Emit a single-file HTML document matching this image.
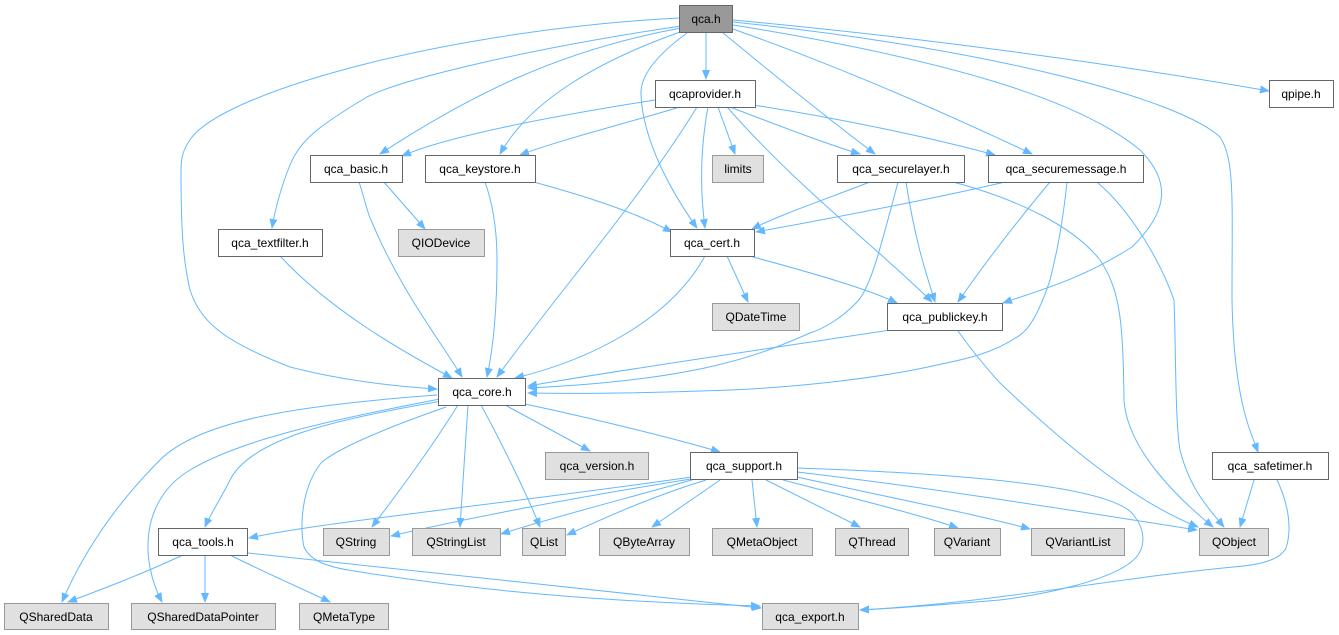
<!DOCTYPE html>
<html><head><meta charset="utf-8"><style>
html,body{margin:0;padding:0;background:#fff;}
svg{display:block;}
text{font-family:"Liberation Sans",sans-serif;font-size:12px;fill:#000;}
</style></head><body>
<svg width="1339" height="635" viewBox="0 0 1339 635" xmlns="http://www.w3.org/2000/svg">
<defs>
<marker id="a" markerWidth="10" markerHeight="8" refX="9" refY="4" orient="auto" markerUnits="userSpaceOnUse">
<path d="M0,0 L10,4 L0,8 z" fill="#63b8ff"/>
</marker>
</defs>
<g fill="none" stroke="#63b8ff" stroke-width="1" marker-end="url(#a)">
<path d="M679,18 C450,30 230,90 192,137 C182,150 181,160 181,170 C181,230 183,260 190,290 C200,320 220,340 290,367 C340,380 390,386 437,389"/>
<path d="M681,26 C520,50 400,80 367,97 C320,125 300,140 290,165 C280,190 275,210 272,228"/>
<path d="M681,28 C560,50 470,95 380,154"/>
<path d="M683,31 C600,60 530,100 500,154"/>
<path d="M706,32 L706,79"/>
<path d="M687,33 C650,60 640,80 641,95 C643,140 670,190 697,228"/>
<path d="M722,32 C780,80 830,120 875,154"/>
<path d="M730,28 C850,70 960,120 1032,154"/>
<path d="M733,25 C950,60 1080,100 1140,150 C1170,180 1170,210 1132,247 C1080,280 1040,290 1003,303"/>
<path d="M733,20 C950,40 1150,70 1269,91"/>
<path d="M733,22 C1000,50 1180,100 1220,137 C1235,160 1232,200 1232,300 C1234,400 1250,430 1258,452"/>
<path d="M655,100 C560,115 450,135 402,156"/>
<path d="M680,107 C620,125 560,140 520,155"/>
<path d="M718,107 L735,154"/>
<path d="M708,107 C700,150 700,190 705,228"/>
<path d="M697,107 C640,200 560,290 497,377"/>
<path d="M730,107 C790,130 830,145 860,154"/>
<path d="M753,105 C850,120 940,140 995,155"/>
<path d="M727,107 C800,190 880,250 932,302"/>
<path d="M383,181 L425,229"/>
<path d="M359,182 C365,200 368,215 371,220 C400,290 440,340 462,377"/>
<path d="M530,181 C600,200 640,215 672,232"/>
<path d="M485,182 C495,210 497,237 497,260 C497,300 495,340 487,377"/>
<path d="M280,256 C330,310 400,350 452,378"/>
<path d="M870,182 C810,205 780,215 752,229"/>
<path d="M906,182 C915,240 925,270 935,302"/>
<path d="M898,182 C880,250 870,290 856,303 C840,320 820,330 810,333 C760,355 700,380 528,388"/>
<path d="M953,182 C1020,200 1074,227 1100,260 C1120,290 1123,320 1124,400 C1127,450 1180,500 1213,527"/>
<path d="M1005,182 C950,195 850,215 756,232"/>
<path d="M1050,182 C1010,230 980,270 958,302"/>
<path d="M1067,182 C1062,230 1055,260 1050,280 C1040,310 1030,330 1017,337 C990,355 960,360 937,365 C880,378 800,387 730,390 C650,393 580,394 528,393"/>
<path d="M1097,182 C1130,210 1160,260 1174,300 C1176,350 1175,420 1180,450 C1190,490 1210,510 1224,527"/>
<path d="M727,256 L748,302"/>
<path d="M753,257 C820,275 870,290 897,303"/>
<path d="M705,256 C670,320 590,360 515,378"/>
<path d="M890,330 C760,350 620,370 528,386"/>
<path d="M958,331 C975,355 990,372 1000,383 C1060,440 1130,500 1198,527"/>
<path d="M437,395 C300,405 200,420 160,460 C110,510 80,560 62,602"/>
<path d="M440,399 C330,420 240,440 190,470 C140,500 140,560 162,602"/>
<path d="M442,401 C330,420 250,440 230,480 C220,500 210,515 205,527"/>
<path d="M458,405 C430,450 400,490 372,527"/>
<path d="M468,405 L460,527"/>
<path d="M481,405 C500,440 525,490 540,527"/>
<path d="M505,405 L590,451"/>
<path d="M525,404 C600,420 680,440 720,452"/>
<path d="M446,407 C380,430 335,450 321,463 C300,490 300,530 304,547 C310,560 325,566 348,570 C470,590 600,602 760,606"/>
<path d="M692,477 C600,490 520,500 464,507 C380,518 300,527 249,538"/>
<path d="M691,479 C560,500 460,520 391,536"/>
<path d="M695,479 C640,495 560,515 501,534"/>
<path d="M706,480 C650,497 600,520 567,535"/>
<path d="M720,480 L652,527"/>
<path d="M752,480 L757,527"/>
<path d="M766,480 L860,527"/>
<path d="M783,480 C860,500 920,515 958,528"/>
<path d="M797,477 C900,500 980,515 1030,529"/>
<path d="M797,472 C950,490 1100,515 1197,530"/>
<path d="M797,468 C1000,475 1120,490 1135,517 C1145,530 1145,545 1138,555 C1120,580 1040,595 1000,600 C940,605 900,608 860,610"/>
<path d="M1254,480 L1240,527"/>
<path d="M1277,480 C1289,505 1292,530 1286,548 C1280,560 1260,565 1233,567 C1100,580 1000,602 860,610"/>
<path d="M183,555 C140,575 100,590 68,602"/>
<path d="M205,555 L205,602"/>
<path d="M230,555 C270,575 305,590 330,602"/>
<path d="M248,553 C400,570 600,590 761,608"/>
</g>
<g stroke="#666" stroke-width="1">
<rect x="679.5" y="5.5" width="53" height="27" fill="#999"/>
<rect x="655.5" y="80.5" width="100" height="27" fill="#fff"/>
<rect x="1269.5" y="80.5" width="64" height="27" fill="#fff"/>
<rect x="310.5" y="155.5" width="92" height="27" fill="#fff"/>
<rect x="425.5" y="155.5" width="110" height="27" fill="#fff"/>
<rect x="712.5" y="155.5" width="51" height="27" fill="#e0e0e0" stroke="#999"/>
<rect x="837.5" y="155.5" width="127" height="27" fill="#fff"/>
<rect x="988.5" y="155.5" width="155" height="27" fill="#fff"/>
<rect x="218.5" y="229.5" width="104" height="27" fill="#fff"/>
<rect x="398.5" y="229.5" width="86" height="27" fill="#e0e0e0" stroke="#999"/>
<rect x="670.5" y="229.5" width="84" height="27" fill="#fff"/>
<rect x="712.5" y="303.5" width="87" height="27" fill="#e0e0e0" stroke="#999"/>
<rect x="887.5" y="303.5" width="115" height="27" fill="#fff"/>
<rect x="438.5" y="378.5" width="87" height="27" fill="#fff"/>
<rect x="545.5" y="452.5" width="103" height="27" fill="#e0e0e0" stroke="#999"/>
<rect x="690.5" y="452.5" width="107" height="27" fill="#fff"/>
<rect x="1212.5" y="452.5" width="116" height="27" fill="#fff"/>
<rect x="158.5" y="528.5" width="89" height="27" fill="#fff"/>
<rect x="323.5" y="528.5" width="66" height="27" fill="#e0e0e0" stroke="#999"/>
<rect x="412.5" y="528.5" width="88" height="27" fill="#e0e0e0" stroke="#999"/>
<rect x="522.5" y="528.5" width="43" height="27" fill="#e0e0e0" stroke="#999"/>
<rect x="599.5" y="528.5" width="90" height="27" fill="#e0e0e0" stroke="#999"/>
<rect x="712.5" y="528.5" width="100" height="27" fill="#e0e0e0" stroke="#999"/>
<rect x="835.5" y="528.5" width="73" height="27" fill="#e0e0e0" stroke="#999"/>
<rect x="934.5" y="528.5" width="66" height="27" fill="#e0e0e0" stroke="#999"/>
<rect x="1031.5" y="528.5" width="93" height="27" fill="#e0e0e0" stroke="#999"/>
<rect x="1199.5" y="528.5" width="69" height="27" fill="#e0e0e0" stroke="#999"/>
<rect x="4.5" y="603.5" width="104" height="26" fill="#e0e0e0" stroke="#999"/>
<rect x="131.5" y="603.5" width="144" height="26" fill="#e0e0e0" stroke="#999"/>
<rect x="299.5" y="603.5" width="89" height="26" fill="#e0e0e0" stroke="#999"/>
<rect x="762.5" y="603.5" width="96" height="26" fill="#e0e0e0" stroke="#999"/>
</g>
<g text-anchor="middle">
<text x="706" y="23">qca.h</text>
<text x="705" y="98">qcaprovider.h</text>
<text x="1301" y="98">qpipe.h</text>
<text x="356" y="173">qca_basic.h</text>
<text x="480" y="173">qca_keystore.h</text>
<text x="738" y="173">limits</text>
<text x="901" y="173">qca_securelayer.h</text>
<text x="1066" y="173">qca_securemessage.h</text>
<text x="270" y="247">qca_textfilter.h</text>
<text x="441" y="247">QIODevice</text>
<text x="712" y="247">qca_cert.h</text>
<text x="756" y="321">QDateTime</text>
<text x="945" y="321">qca_publickey.h</text>
<text x="482" y="396">qca_core.h</text>
<text x="597" y="470">qca_version.h</text>
<text x="744" y="470">qca_support.h</text>
<text x="1270" y="470">qca_safetimer.h</text>
<text x="203" y="546">qca_tools.h</text>
<text x="356" y="546">QString</text>
<text x="456" y="546">QStringList</text>
<text x="544" y="546">QList</text>
<text x="644" y="546">QByteArray</text>
<text x="762" y="546">QMetaObject</text>
<text x="872" y="546">QThread</text>
<text x="967" y="546">QVariant</text>
<text x="1078" y="546">QVariantList</text>
<text x="1234" y="546">QObject</text>
<text x="56" y="621">QSharedData</text>
<text x="203" y="621">QSharedDataPointer</text>
<text x="344" y="621">QMetaType</text>
<text x="810" y="621">qca_export.h</text>
</g>
</svg>
</body></html>
